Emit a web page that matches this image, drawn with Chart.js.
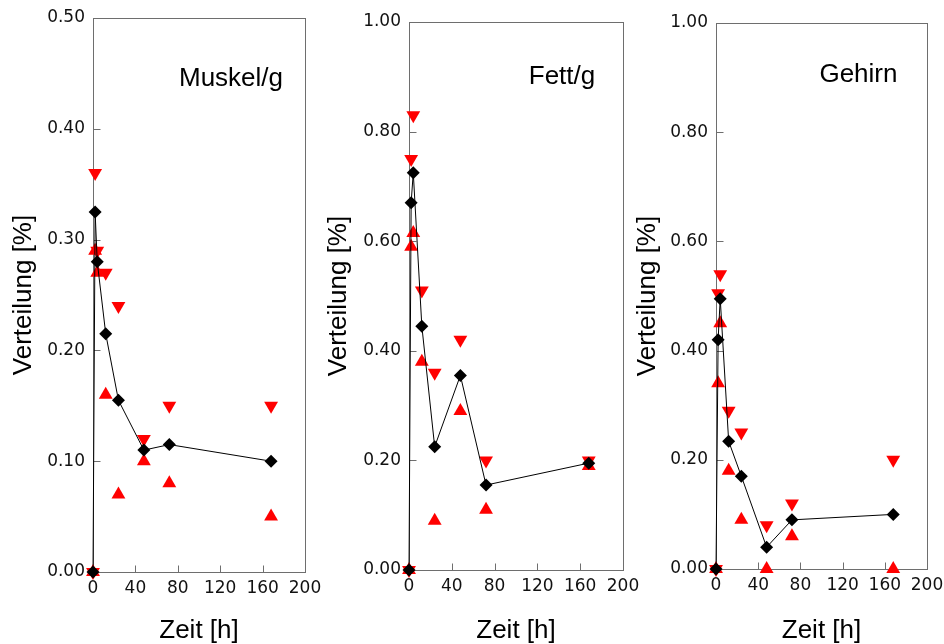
<!DOCTYPE html>
<html lang="de">
<head>
<meta charset="utf-8">
<title>Verteilung</title>
<script src="https://cdn.jsdelivr.net/npm/chart.js@4.4.1/dist/chart.umd.min.js"></script>
<style>
  html, body { margin: 0; padding: 0; background: #fff; }
  #wrap { position: relative; width: 944px; height: 644px; overflow: hidden; }
  #wrap canvas { position: absolute; top: 0; }
</style>
</head>
<body>
<div id="wrap">
  <canvas id="muskel" width="330" height="644" style="left:0"></canvas>
  <canvas id="fett" width="330" height="644" style="left:315px"></canvas>
  <canvas id="gehirn" width="314" height="644" style="left:630px"></canvas>
</div>
<script>
// Sampling times (h)
const hours = [0, 2, 4, 12, 24, 48, 72, 168];

// Muskel/g: mean, upper and lower values
const muskelMean  = [0, 0.325, 0.28, 0.215, 0.155, 0.11, 0.115, 0.10];
const muskelUpper = [0, 0.36, 0.29, 0.27, 0.24, 0.12, 0.15, 0.15];
const muskelLower = [0, 0.29, 0.27, 0.16, 0.07, 0.10, 0.08, 0.05];

// Fett/g
const fettMean  = [0, 0.67, 0.725, 0.445, 0.225, 0.355, 0.155, 0.195];
const fettUpper = [0, 0.75, 0.83, 0.51, 0.36, 0.42, 0.20, 0.20];
const fettLower = [0, 0.59, 0.615, 0.38, 0.09, 0.29, 0.11, 0.19];

// Gehirn
const gehirnMean  = [0, 0.42, 0.495, 0.234, 0.17, 0.04, 0.09, 0.10];
const gehirnUpper = [0, 0.505, 0.54, 0.29, 0.25, 0.08, 0.12, 0.20];
const gehirnLower = [0, 0.34, 0.45, 0.18, 0.09, 0.0, 0.06, 0.0];

// Axis ticks
const xTicks = [0, 40, 80, 120, 160, 200];
const yTicksMuskel = [0, 0.1, 0.2, 0.3, 0.4, 0.5];
const yTicksFull = [0, 0.2, 0.4, 0.6, 0.8, 1.0];

const LABEL_FONT = '"Liberation Sans", Arial, sans-serif';
const TICK_FONT = '"DejaVu Sans", Verdana, sans-serif';

function toPoints(xs, ys) {
    return xs.map((x, i) => ({ x: x, y: ys[i] }));
}

// box around the plot area, short inward tick marks and the panel name
const framePlugin = {
    id: 'frame',
    beforeDatasetsDraw(chart, args, opts) {
        const { ctx, chartArea: a, scales: { x, y } } = chart;
        const l = Math.round(a.left) + 0.5, r = Math.round(a.right) + 0.5;
        const t = Math.round(a.top) + 0.5, b = Math.round(a.bottom) + 0.5;
        ctx.save();
        ctx.strokeStyle = '#6e6e6e';
        ctx.lineWidth = 1;
        ctx.strokeRect(l, t, r - l, b - t);
        ctx.beginPath();
        y.ticks.forEach(tk => {
            const py = Math.round(y.getPixelForValue(tk.value)) + 0.5;
            ctx.moveTo(l, py);
            ctx.lineTo(l + 7, py);
        });
        x.ticks.forEach(tk => {
            const px = Math.round(x.getPixelForValue(tk.value)) + 0.5;
            ctx.moveTo(px, b);
            ctx.lineTo(px, b - 7);
        });
        ctx.stroke();
        ctx.font = '26px ' + LABEL_FONT;
        ctx.fillStyle = '#000';
        ctx.textAlign = 'center';
        ctx.textBaseline = 'middle';
        ctx.fillText(opts.text, a.left + a.width * opts.fx, a.top + a.height * opts.fy);
        ctx.restore();
    }
};

function makePanel(id, p) {
    new Chart(document.getElementById(id), {
        type: 'line',
        data: {
            datasets: [
                {
                    data: toPoints(hours, p.mean),
                    borderColor: '#000',
                    borderWidth: 1,
                    pointStyle: 'rectRot',
                    pointRadius: 6.5,
                    pointBackgroundColor: '#000',
                    pointBorderWidth: 0,
                    clip: false
                },
                {
                    data: toPoints(hours, p.upper),
                    showLine: false,
                    pointStyle: 'triangle',
                    pointRotation: 180,
                    pointRadius: 8,
                    pointBackgroundColor: '#ff0000',
                    pointBorderWidth: 0,
                    clip: false
                },
                {
                    data: toPoints(hours, p.lower),
                    showLine: false,
                    pointStyle: 'triangle',
                    pointRadius: 8,
                    pointBackgroundColor: '#ff0000',
                    pointBorderWidth: 0,
                    clip: false
                }
            ]
        },
        options: {
            responsive: false,
            animation: false,
            events: [],
            layout: { padding: { top: p.top, right: p.right, left: 0, bottom: 0 } },
            plugins: {
                legend: { display: false },
                tooltip: { enabled: false },
                frame: { text: p.name, fx: p.fx, fy: p.fy }
            },
            scales: {
                x: {
                    type: 'linear',
                    min: 0,
                    max: 200,
                    afterBuildTicks: s => { s.ticks = xTicks.map(v => ({ value: v })); },
                    afterFit: s => { s.height = 644 - p.bottom; s.paddingLeft = 0; s.paddingRight = 0; },
                    grid: { display: false, drawTicks: false },
                    border: { display: false },
                    ticks: { font: { family: TICK_FONT, size: 17 }, color: '#111', padding: 6, maxRotation: 0 },
                    title: {
                        display: true,
                        text: 'Zeit [h]',
                        color: '#000',
                        font: { family: LABEL_FONT, size: 26, lineHeight: 1 },
                        padding: { top: 0, bottom: 0 }
                    }
                },
                y: {
                    min: 0,
                    max: p.yMax,
                    afterBuildTicks: s => { s.ticks = p.yTicks.map(v => ({ value: v })); },
                    afterFit: s => { s.width = p.left; s.paddingTop = 0; s.paddingBottom = 0; },
                    grid: { display: false, drawTicks: false },
                    border: { display: false },
                    ticks: {
                        font: { family: TICK_FONT, size: 17 },
                        color: '#111',
                        padding: 8,
                        callback: v => v.toFixed(2)
                    },
                    title: {
                        display: true,
                        text: 'Verteilung [%]',
                        color: '#000',
                        font: { family: LABEL_FONT, size: 26, lineHeight: 1 },
                        padding: { top: p.titlePad, bottom: 0 }
                    }
                }
            }
        },
        plugins: [framePlugin]
    });
}

makePanel('muskel', {
    name: 'Muskel/g', mean: muskelMean, upper: muskelUpper, lower: muskelLower,
    yMax: 0.5, yTicks: yTicksMuskel,
    left: 93, right: 25, top: 18, bottom: 572, titlePad: 11, fx: 0.651, fy: 0.11
});
makePanel('fett', {
    name: 'Fett/g', mean: fettMean, upper: fettUpper, lower: fettLower,
    yMax: 1.0, yTicks: yTicksFull,
    left: 94, right: 22, top: 22, bottom: 570, titlePad: 11, fx: 0.715, fy: 0.10
});
makePanel('gehirn', {
    name: 'Gehirn', mean: gehirnMean, upper: gehirnUpper, lower: gehirnLower,
    yMax: 1.0, yTicks: yTicksFull,
    left: 86, right: 17, top: 23, bottom: 569, titlePad: 5, fx: 0.675, fy: 0.095
});
</script>
</body>
</html>
